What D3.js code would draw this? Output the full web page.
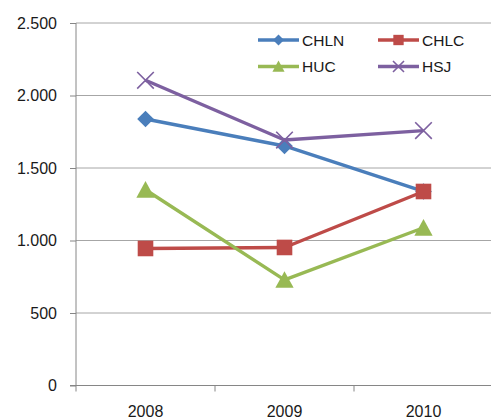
<!DOCTYPE html>
<html><head><meta charset="utf-8">
<script src="https://cdn.jsdelivr.net/npm/d3@7"></script>
<style>body{margin:0;background:#fff;}svg{display:block;font-family:"Liberation Sans",Arial,sans-serif;}</style>
</head><body>
<svg id="c" width="491" height="419"></svg>
<script>
const categories = ["2008", "2009", "2010"];
const seriesNames = ["CHLN", "CHLC", "HUC", "HSJ"];
const CHLN = [1838, 1652, 1338];
const CHLC = [945, 952, 1338];
const HUC = [1350, 728, 1088];
const HSJ = [2105, 1693, 1758];
const yTicks = [0, 500, 1000, 1500, 2000, 2500];
const yTickLabels = ["0", "500", "1.000", "1.500", "2.000", "2.500"];
const colors = ["#4a7ebb", "#be4b48", "#98b954", "#7d60a0"];
const symbols = ["diamond", "square", "triangle", "cross"];
const values = [CHLN, CHLC, HUC, HSJ];

const svg = d3.select("#c");
const mLeft = 76, mRight = 493, mTop = 23, mBottom = 385.5;
const x = d3.scaleBand().domain(categories).range([mLeft, mRight]).padding(0);
const y = d3.scaleLinear().domain([0, 2500]).range([mBottom, mTop]);

// gridlines
svg.append("g").selectAll("line").data(yTicks.filter(d => d > 0)).join("line")
  .attr("x1", mLeft).attr("x2", 491).attr("y1", d => y(d)).attr("y2", d => y(d))
  .attr("stroke", "#a6a6a6").attr("stroke-width", 1);

// y axis
const yAxis = d3.axisLeft(y).tickValues(yTicks).tickSize(6).tickFormat((d, i) => yTickLabels[i]);
const gy = svg.append("g").attr("transform", `translate(${mLeft},0)`).call(yAxis);
gy.select(".domain").attr("stroke", "#868686").attr("d", `M-6,${mBottom}H0V${mTop}`);
gy.selectAll(".tick line").attr("stroke", "#868686");
gy.selectAll(".tick text").attr("x", -19).attr("font-size", 16).attr("fill", "#1a1a1a").attr("font-family", "Liberation Sans, Arial, sans-serif");

// x axis
const xAxis = d3.axisBottom(x).tickSize(0);
const gx = svg.append("g").attr("transform", `translate(0,${mBottom})`).call(xAxis);
gx.select(".domain").attr("stroke", "#868686").attr("d", `M${mLeft},0H491`);
gx.selectAll(".tick text").attr("y", 20).attr("font-size", 16).attr("fill", "#1a1a1a").attr("font-family", "Liberation Sans, Arial, sans-serif");
// category boundary ticks
svg.append("g").selectAll("line").data(categories).join("line")
  .attr("x1", d => x(d)).attr("x2", d => x(d)).attr("y1", mBottom).attr("y2", mBottom + 6)
  .attr("stroke", "#868686");

function drawMarker(g, type, color, cx, cy, s) {
  if (type === "diamond") {
    g.append("path").attr("d", `M${cx},${cy - s}L${cx + s},${cy}L${cx},${cy + s}L${cx - s},${cy}Z`).attr("fill", color);
  } else if (type === "square") {
    g.append("rect").attr("x", cx - s * 0.94).attr("y", cy - s * 0.94).attr("width", 1.88 * s).attr("height", 1.88 * s).attr("fill", color);
  } else if (type === "triangle") {
    g.append("path").attr("d", `M${cx},${cy - s - 0.5}L${cx + s * 1.1},${cy + s * 0.95}L${cx - s * 1.1},${cy + s * 0.95}Z`).attr("fill", color);
  } else {
    g.append("path").attr("d", `M${cx - s},${cy - s}L${cx + s},${cy + s}M${cx - s},${cy + s}L${cx + s},${cy - s}`)
      .attr("stroke", color).attr("stroke-width", 1.6).attr("fill", "none");
  }
}

const line = d3.line().x((d, i) => x(categories[i]) + x.bandwidth() / 2).y(d => y(d));
values.forEach((vals, k) => {
  const g = svg.append("g");
  g.append("path").datum(vals).attr("d", line).attr("fill", "none")
    .attr("stroke", colors[k]).attr("stroke-width", 3.4).attr("stroke-linejoin", "round");
  vals.forEach((v, i) => drawMarker(g, symbols[k], colors[k], x(categories[i]) + x.bandwidth() / 2, y(v), 8.3));
});

// legend
const legPos = [[258, 40], [378, 40], [258, 66.5], [378, 66.5]];
seriesNames.forEach((name, k) => {
  const [lx, ly] = legPos[k];
  const g = svg.append("g");
  g.append("line").attr("x1", lx).attr("x2", lx + 41).attr("y1", ly).attr("y2", ly)
    .attr("stroke", colors[k]).attr("stroke-width", 3.4);
  drawMarker(g, symbols[k], colors[k], lx + 20.5, ly, 5.5);
  g.append("text").attr("x", lx + 44).attr("y", ly + 5.8).attr("font-size", 15.5).attr("fill", "#1a1a1a").text(name);
});
</script>
</body></html>
